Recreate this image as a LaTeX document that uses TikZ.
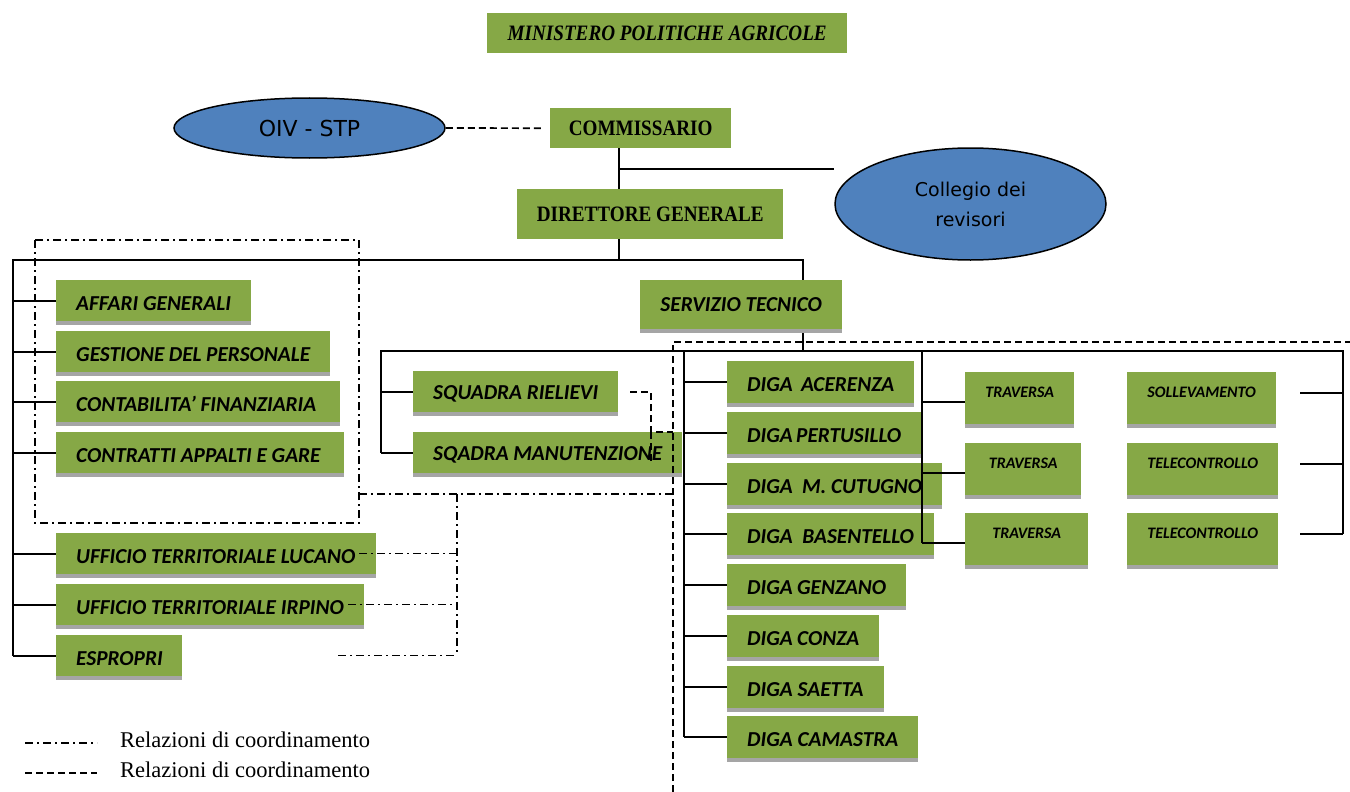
\documentclass[tikz,border=0pt]{standalone}
\usepackage{fontspec}
\setmainfont{Carlito}
\newfontfamily\headfont{Liberation Serif}[FakeStretch=0.87]
\newfontfamily\legfont{Liberation Serif}
\newfontfamily\ellfont{DejaVu Sans}
\usetikzlibrary{shapes.geometric}
\definecolor{boxgreen}{HTML}{86A846}
\definecolor{shadowgray}{HTML}{A5A5A5}
\definecolor{ellblue}{HTML}{4F81BD}
\tikzset{
  boxbase/.style={fill=boxgreen, anchor=north west, inner sep=0pt},
  headbox/.style={boxbase, font=\headfont\fontsize{22}{26}\selectfont\bfseries},
  unitbox/.style={boxbase, inner xsep=20pt, font=\fontsize{21.3}{25}\selectfont\bfseries\itshape},
  centbox/.style={boxbase, font=\fontsize{21.3}{25}\selectfont\bfseries\itshape},
  smallbox/.style={boxbase, font=\fontsize{16}{18}\selectfont\bfseries\itshape, text height=9pt, text depth=11pt},
  ell/.style={ellipse, draw=black, line width=1.5pt, fill=ellblue, inner sep=0pt, align=center},
  conn/.style={line width=2pt, black},
  dashdot/.style={line width=1.5pt, dash pattern=on 8pt off 4pt on 2pt off 4pt},
  dashline/.style={line width=1.7pt, dash pattern=on 7pt off 4pt},
  legtext/.style={font=\legfont\fontsize{22.5}{26}\selectfont, anchor=west, inner sep=0pt},
}
\newcommand\unitnode[6]{%
  \fill[shadowgray] (#2,{-(#3+#5)}) rectangle ({#2+#4},{-(#3+#5+4)});
  \node[unitbox, minimum width=#4pt, minimum height=#5pt] (#1) at (#2,-#3) {\raisebox{-2.5pt}[\height][\depth]{\hbox to \dimexpr#4pt-40pt\relax{#6\hfil}}};
}
\newcommand\centnode[6]{%
  \fill[shadowgray] (#2,{-(#3+#5)}) rectangle ({#2+#4},{-(#3+#5+4)});
  \node[centbox, minimum width=#4pt, minimum height=#5pt] (#1) at (#2,-#3) {#6};
}
\newcommand\smallnode[6]{%
  \fill[shadowgray] (#2,{-(#3+#5)}) rectangle ({#2+#4},{-(#3+#5+4)});
  \node[smallbox, minimum width=#4pt, minimum height=#5pt] (#1) at (#2,-#3) {#6};
}
\begin{document}
\begin{tikzpicture}[x=1pt,y=1pt]
\useasboundingbox[fill=white] (0,0) rectangle (1350,-792);

% top
\node[headbox, minimum width=360pt, minimum height=40pt] (min) at (487,-13) {\itshape MINISTERO POLITICHE AGRICOLE};
\node[headbox, minimum width=181pt, minimum height=40pt] (comm) at (550,-108) {COMMISSARIO};
\node[headbox, minimum width=266pt, minimum height=50pt] (dg) at (517,-189) {DIRETTORE GENERALE};
\node[ell, minimum width=271pt, minimum height=60pt, font=\ellfont\fontsize{22}{30}\selectfont] (oiv) at (309.5,-128) {OIV - STP};
\node[ell, minimum width=271pt, minimum height=112pt, font=\ellfont\fontsize{19}{30}\selectfont] (coll) at (970.5,-204) {Collegio dei\\revisori};

% left units
\unitnode{affari}{56}{280}{195}{41}{AFFARI GENERALI}
\unitnode{gest}{56}{331}{274}{41}{GESTIONE DEL PERSONALE}
\unitnode{contab}{56}{381}{284}{41}{CONTABILITA’ FINANZIARIA}
\unitnode{contr}{56}{432}{288}{41}{CONTRATTI APPALTI E GARE}
\unitnode{lucano}{56}{533}{320}{41}{UFFICIO TERRITORIALE LUCANO}
\unitnode{irpino}{56}{584}{308}{41}{UFFICIO TERRITORIALE IRPINO}
\unitnode{espropri}{56}{635}{126}{41}{ESPROPRI}

% servizio tecnico
\centnode{serv}{640}{280}{202}{49}{SERVIZIO TECNICO}
\unitnode{rielievi}{413}{371}{205}{41}{SQUADRA RIELIEVI}
\unitnode{manut}{413}{432}{269}{41}{SQADRA MANUTENZIONE}

% dighe
\unitnode{acerenza}{727}{361}{187}{42}{DIGA\ \ ACERENZA}
\unitnode{pertusillo}{727}{412}{194}{42}{DIGA PERTUSILLO}
\unitnode{cutugno}{727}{463}{215}{42}{DIGA\ \ M. CUTUGNO}
\unitnode{basentello}{727}{513}{207}{42}{DIGA\ \ BASENTELLO}
\unitnode{genzano}{727}{564}{179}{42}{DIGA GENZANO}
\unitnode{conza}{727}{615}{152}{42}{DIGA CONZA}
\unitnode{saetta}{727}{666}{157}{42}{DIGA SAETTA}
\unitnode{camastra}{727}{716}{191}{42}{DIGA CAMASTRA}

% small boxes
\smallnode{trav1}{965}{372}{109}{52}{TRAVERSA}
\smallnode{trav2}{965}{443}{116}{52}{TRAVERSA}
\smallnode{trav3}{965}{513}{123}{52}{TRAVERSA}
\smallnode{soll}{1127}{372}{149}{52}{SOLLEVAMENTO}
\smallnode{tele1}{1127}{443}{151}{52}{TELECONTROLLO}
\smallnode{tele2}{1127}{513}{151}{52}{TELECONTROLLO}

% legend
\node[legtext] (leg1) at (120,-740) {Relazioni di coordinamento};
\node[legtext] (leg2) at (120,-770) {Relazioni di coordinamento};

% coordinates
\coordinate (trunk) at (619,-260);
\coordinate (busL) at (13,-260);
\coordinate (busR) at (803,-260);
\coordinate (colJ) at (619,-169);
\coordinate (bus2L) at (381,-351);
\coordinate (bus2R) at (1343,-351);
\coordinate (bus2S) at (803,-351);
\coordinate (digaBus) at (684,-351);
\coordinate (travBus) at (922,-351);
\coordinate (rStub) at (1300,-351);
\coordinate (dashTL) at (673,-342);
\coordinate (dashB) at (673,-792);
\coordinate (dashR) at (1350,-342);
\coordinate (sqv) at (651,-432);
\coordinate (ddTL) at (35,-240);
\coordinate (ddBR) at (359,-523);
\coordinate (ddj) at (359,-494);
\coordinate (ddv) at (457,-494);

% solid connectors
\draw[conn] (comm.south -| trunk) -- (dg.north -| trunk);
\draw[conn] (colJ) -- (colJ -| coll.west);
\draw[conn] (dg.south -| trunk) -- (trunk);
\draw[conn] (espropri.west -| busL) -- (busL) -- (busR) -- (serv.north -| busR);
\foreach \n in {affari,gest,contab,contr,lucano,irpino,espropri}
  \draw[conn] (\n.west -| busL) -- (\n.west);
\draw[conn] ([yshift=-4pt]serv.south -| busR) -- (bus2S);
\draw[conn] (manut.west -| bus2L) -- (bus2L) -- (bus2R) -- ([yshift=5pt]tele2.east -| bus2R);
\foreach \n in {rielievi,manut}
  \draw[conn] (\n.west -| bus2L) -- (\n.west);
\draw[conn] (digaBus) -- (camastra.west -| digaBus);
\foreach \n in {acerenza,pertusillo,cutugno,basentello,genzano,conza,saetta,camastra}
  \draw[conn] (\n.west -| digaBus) -- (\n.west);
\draw[conn] (travBus) -- ([yshift=-4pt]trav3.west -| travBus);
\foreach \n in {trav1,trav2,trav3}
  \draw[conn] ([yshift=-4pt]\n.west -| travBus) -- ([yshift=-4pt]\n.west);
\foreach \n in {soll,tele1,tele2}
  \draw[conn] ([yshift=5pt]\n.east -| rStub) -- ([yshift=5pt]\n.east -| bus2R);

% dashed relations
\draw[dashline] (oiv.east) -- ([xshift=-8pt]comm.west);
\draw[dashline] (dashB) -- (dashTL) -- (dashR);
\draw[dashline] ([xshift=12pt]rielievi.east) -| (sqv) -- (sqv -| dashTL);
\draw[dashline] (sqv) -- ++(0,-31);

% dash-dot relations
\draw[dashdot] (ddTL) rectangle (ddBR);
\draw[dashdot] (ddj) -- (ddj -| dashTL);
\draw[dashdot] (ddv) -- (espropri.east -| ddv);
\draw[dashdot] ([xshift=-17pt]lucano.east) -- (lucano.east -| ddv);
\draw[dashdot] ([xshift=-16pt]irpino.east) -- (irpino.east -| ddv);
\draw[dashdot] ([xshift=156pt]espropri.east) -- (espropri.east -| ddv);

% legend lines
\draw[dashdot] ([xshift=-95pt,yshift=-3pt]leg1.west) -- ([xshift=-23pt,yshift=-3pt]leg1.west);
\draw[dashline] ([xshift=-95pt,yshift=-3pt]leg2.west) -- ([xshift=-23pt,yshift=-3pt]leg2.west);
\end{tikzpicture}
\end{document}
